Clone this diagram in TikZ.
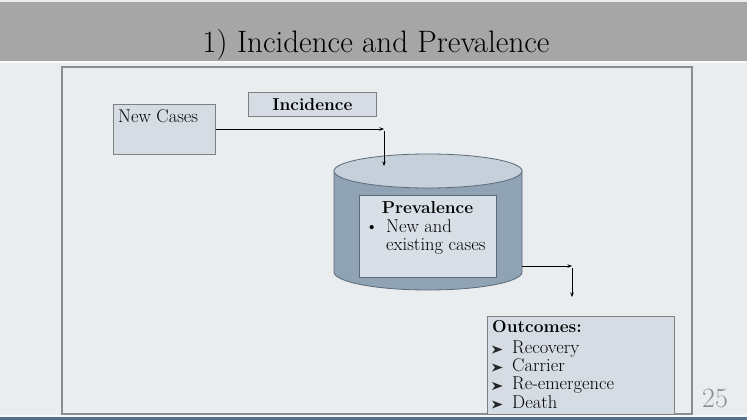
\documentclass[tikz,border=0pt]{standalone}
\usepackage{fontspec}
\usetikzlibrary{arrows.meta}
\definecolor{headgray}{HTML}{A6A6A6}
\definecolor{slidebg}{HTML}{E9EDF0}
\definecolor{boxfill}{HTML}{D6DCE4}
\definecolor{boxline}{HTML}{7F7F7F}
\definecolor{cylbody}{HTML}{8FA3B5}
\definecolor{cyltop}{HTML}{C5D0DA}
\definecolor{cylline}{HTML}{5A6A78}
\definecolor{innerfill}{HTML}{D8DFE6}
\definecolor{framegray}{HTML}{8C8C8C}
\definecolor{footblue}{HTML}{56708A}
\newcommand{\bodysize}{\fontsize{18.5}{20}\selectfont}
\newcommand{\boldsize}{\fontsize{17.3}{20}\selectfont\bfseries}
\tikzset{
  panel/.style={draw=boxline, line width=0.8pt, fill=boxfill, inner sep=0pt, anchor=north west},
  txt/.style={inner sep=0pt, anchor=base west, font=\bodysize},
  flow/.style={draw=black, line width=0.6pt, -{Stealth[length=4.5pt,width=3.5pt]}},
}
\begin{document}
\begin{tikzpicture}[x=1pt, y=-1pt]
\useasboundingbox (0,0) rectangle (747,420);
% slide background and header band
\fill[slidebg] (0,0) rectangle (747,420);
\fill[headgray] (0,2) rectangle (747,61);
\fill[white!70!slidebg] (0,61) rectangle (747,63);
\node[inner sep=0pt, anchor=base, font=\fontsize{31}{34}\selectfont] (title) at (376,53) {1) Incidence and Prevalence};
% content frame
\draw[framegray, line width=1.4pt] (62,67) rectangle (692,414);
\fill[footblue] (0,417) rectangle (747,420);
\fill[white!60!slidebg] (0,415) rectangle (747,417);

% new cases and incidence
\node[panel, minimum width=102pt, minimum height=50pt] (newcases) at (113,104) {};
\node[txt] (newcasestext) at (118,122) {New Cases};
\node[panel, minimum width=128pt, minimum height=24pt] (incidence) at (248,92) {};
\node[inner sep=0pt, font=\boldsize] (incidencetext) at (incidence.center) {Incidence};

% prevalence cylinder
\filldraw[fill=cylbody, draw=cylline, line width=0.8pt]
  (334,171) -- (334,272) arc[start angle=180, end angle=0, x radius=94, y radius=18] -- (522,171) -- cycle;
\filldraw[fill=cyltop, draw=cylline, line width=0.8pt] (428,171) ellipse [x radius=94, y radius=17];
\coordinate (cyltopin) at (384,166);
\coordinate (cylout) at (522,266);
\node[draw=cylline, line width=0.8pt, fill=innerfill, inner sep=0pt, anchor=north west,
      minimum width=137pt, minimum height=82pt] (inner) at (359,195) {};
\node[inner sep=0pt, anchor=base, font=\boldsize] (prevtitle) at (427.5,213) {Prevalence};
\node[txt] (prevbullet) at (365,232) {\textbullet};
\node[txt] (prevline1) at (386,232) {New and};
\node[txt] (prevline2) at (386,250) {existing cases};

% connectors
\coordinate (bend1) at (384,129);
\coordinate (bend1b) at (384,131);
\draw[flow] (newcases.east |- bend1) -- (bend1);
\draw[flow] (bend1b) -- (cyltopin);
\coordinate (bend2) at (572,266);
\coordinate (bend2b) at (572,268);
\coordinate (outin) at (572,297);
\draw[flow] (cylout) -- (bend2);
\draw[flow] (bend2b) -- (outin);

% outcomes list with arrowhead bullets
\node[panel, minimum width=187pt, minimum height=98pt] (outcomes) at (487,316) {};
\node[txt, font=\boldsize] (outtitle) at (492,332) {Outcomes:};
\foreach \name/\item/\yy in {o1/Recovery/353, o2/Carrier/371, o3/Re-emergence/389.5, o4/Death/408}{
  \fill[black!85] (492,\yy-7.5) -- (502.5,\yy-3.5) -- (492,\yy+0.5) -- (495,\yy-3.5) -- cycle;
  \node[txt] (\name) at (512,\yy) {\item};
}

% page number
\node[inner sep=0pt, anchor=base west, text=framegray, font=\fontsize{28}{30}\selectfont] (pagenum) at (702,407) {25};
\end{tikzpicture}
\end{document}
